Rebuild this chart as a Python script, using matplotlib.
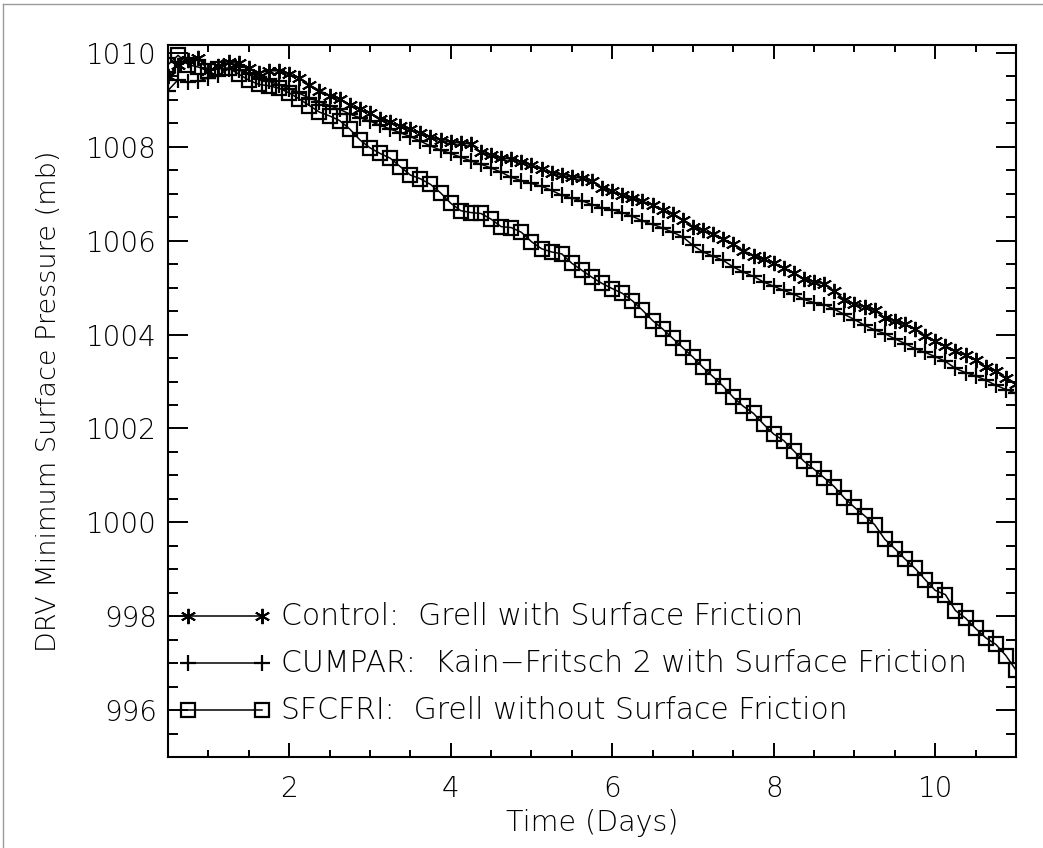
import numpy as np
import matplotlib
matplotlib.use("Agg")
import matplotlib.pyplot as plt
from matplotlib.ticker import MultipleLocator, FixedLocator
from matplotlib.lines import Line2D

# Model output every 3 hours from day 0.5 to day 11
time_days = np.arange(85) * 0.125 + 0.5

control = [
    1009.50, 1009.75, 1009.85, 1009.90, 1009.62, 1009.72, 1009.80, 1009.78,
    1009.68, 1009.58, 1009.62, 1009.62, 1009.55, 1009.47, 1009.32, 1009.20,
    1009.09, 1009.02, 1008.90, 1008.80, 1008.72, 1008.60, 1008.52, 1008.45,
    1008.37, 1008.30, 1008.22, 1008.14, 1008.10, 1008.08, 1008.06, 1007.88,
    1007.82, 1007.76, 1007.74, 1007.68, 1007.62, 1007.52, 1007.45, 1007.39,
    1007.36, 1007.33, 1007.27, 1007.13, 1007.05, 1006.97, 1006.90, 1006.84,
    1006.76, 1006.65, 1006.56, 1006.44, 1006.30, 1006.22, 1006.15, 1006.04,
    1005.92, 1005.79, 1005.68, 1005.60, 1005.52, 1005.42, 1005.31, 1005.18,
    1005.13, 1005.08, 1004.93, 1004.74, 1004.65, 1004.59, 1004.52, 1004.36,
    1004.30, 1004.22, 1004.12, 1003.98, 1003.86, 1003.76, 1003.65, 1003.56,
    1003.46, 1003.31, 1003.23, 1003.08, 1002.95,
]

cumpar = [
    1009.20, 1009.43, 1009.38, 1009.40, 1009.47, 1009.53, 1009.66, 1009.64,
    1009.55, 1009.45, 1009.40, 1009.32, 1009.24, 1009.14, 1009.04, 1008.96,
    1008.88, 1008.80, 1008.70, 1008.62, 1008.55, 1008.46, 1008.38, 1008.30,
    1008.22, 1008.12, 1008.02, 1007.93, 1007.86, 1007.78, 1007.70, 1007.63,
    1007.55, 1007.46, 1007.35, 1007.28, 1007.22, 1007.16, 1007.07, 1006.97,
    1006.91, 1006.85, 1006.77, 1006.70, 1006.66, 1006.60, 1006.52, 1006.42,
    1006.35, 1006.27, 1006.18, 1006.08, 1005.90, 1005.76, 1005.67, 1005.58,
    1005.44, 1005.33, 1005.24, 1005.12, 1005.03, 1004.94, 1004.86, 1004.75,
    1004.68, 1004.64, 1004.54, 1004.43, 1004.32, 1004.20, 1004.10, 1004.02,
    1003.91, 1003.81, 1003.70, 1003.62, 1003.53, 1003.43, 1003.28, 1003.19,
    1003.12, 1003.03, 1002.92, 1002.83, 1002.75,
]

sfcfri = [
    1009.75, 1009.95, 1009.75, 1009.70, 1009.62, 1009.66, 1009.68, 1009.55,
    1009.42, 1009.33, 1009.30, 1009.25, 1009.15, 1009.02, 1008.88, 1008.74,
    1008.66, 1008.56, 1008.38, 1008.15, 1007.98, 1007.86, 1007.76, 1007.58,
    1007.40, 1007.32, 1007.20, 1007.02, 1006.80, 1006.64, 1006.60, 1006.58,
    1006.46, 1006.30, 1006.28, 1006.18, 1005.98, 1005.83, 1005.76, 1005.72,
    1005.52, 1005.37, 1005.22, 1005.09, 1004.98, 1004.88, 1004.72, 1004.52,
    1004.30, 1004.12, 1003.92, 1003.72, 1003.52, 1003.30, 1003.10, 1002.90,
    1002.66, 1002.47, 1002.32, 1002.09, 1001.88, 1001.74, 1001.52, 1001.30,
    1001.13, 1000.95, 1000.76, 1000.52, 1000.32, 1000.14, 999.95, 999.64,
    999.44, 999.22, 999.02, 998.78, 998.55, 998.46, 998.12, 997.96,
    997.74, 997.54, 997.40, 997.16, 996.85,
]

series_labels = [
    "Control:  Grell with Surface Friction",
    "CUMPAR:  Kain\u2212Fritsch 2 with Surface Friction",
    "SFCFRI:  Grell without Surface Friction",
]
legend_levels = [998, 997, 996]

x_ticks = [2, 4, 6, 8, 10]
y_ticks = [996, 998, 1000, 1002, 1004, 1006, 1008, 1010]

FONT = {"family": "DejaVu Sans", "weight": "light"}

styles = [
    dict(marker=(6, 2, 0), markersize=11, markeredgewidth=1.4),
    dict(marker="+", markersize=12, markeredgewidth=1.6),
    dict(marker="s", markersize=10, markeredgewidth=1.6, markerfacecolor="none"),
]

fig = plt.figure(figsize=(10.43, 8.48), dpi=100)
ax = fig.add_axes([168 / 1043, 1 - 757 / 848, (1016 - 168) / 1043, (757 - 45) / 848])

for vals, st in zip([control, cumpar, sfcfri], styles):
    ax.plot(time_days, vals, color="black", linewidth=1.1,
            markeredgecolor="black", **st)

# In-plot key: short line with a symbol at each end, then the description
for lvl, st, lab in zip(legend_levels, styles, series_labels):
    ax.plot([0.75, 1.66], [lvl, lvl], color="black", linewidth=1.1,
            markeredgecolor="black", **st)
    ax.text(1.9, lvl, lab, va="center", ha="left", fontsize=21.5,
            color="black", **FONT)

ax.set_xlim(0.5, 11.0)
ax.set_ylim(995.0, 1010.17)

ax.xaxis.set_major_locator(FixedLocator(x_ticks))
ax.xaxis.set_minor_locator(MultipleLocator(0.5))
ax.yaxis.set_major_locator(FixedLocator(y_ticks))
ax.yaxis.set_minor_locator(MultipleLocator(0.5))

ax.set_xticklabels([str(v) for v in x_ticks], fontsize=20, **FONT)
ax.set_yticklabels([str(v) for v in y_ticks], fontsize=20, **FONT)

ax.tick_params(axis="both", which="both", direction="in",
               top=True, right=True, width=1.4, color="black")
ax.tick_params(axis="y", which="major", length=14.5, pad=8)
ax.tick_params(axis="y", which="minor", length=7)
ax.tick_params(axis="x", which="major", length=10, pad=13)
ax.tick_params(axis="x", which="minor", length=5)

for sp in ax.spines.values():
    sp.set_linewidth(1.5)
    sp.set_color("black")

ax.set_xlabel("Time (Days)", fontsize=20.5, labelpad=4, **FONT)
ax.set_ylabel("DRV Minimum Surface Pressure (mb)", fontsize=19.5, labelpad=18, **FONT)

# thin page frame along the left and top edges
fig.add_artist(Line2D([3 / 1043, 3 / 1043], [0, 1 - 4 / 848],
                      transform=fig.transFigure, color="#9a9a9a", linewidth=1.0))
fig.add_artist(Line2D([3 / 1043, 1], [1 - 4 / 848, 1 - 4 / 848],
                      transform=fig.transFigure, color="#9a9a9a", linewidth=1.0))

fig.savefig("out.png", dpi=100)
